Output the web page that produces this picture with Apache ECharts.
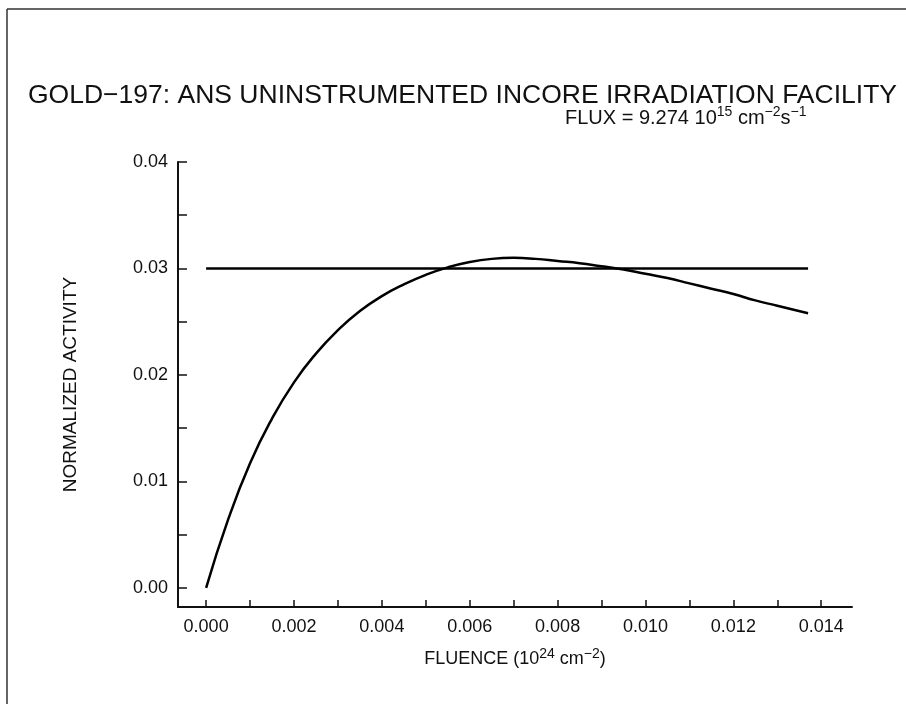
<!doctype html>
<html>
<head>
<meta charset="utf-8">
<title>Gold-197 normalized activity</title>
<script src="https://cdn.jsdelivr.net/npm/echarts@6/dist/echarts.min.js"></script>
<style>
  html, body { margin: 0; height: 100%; background: #fff; }
  #chart { width: 906px; height: 704px; }
</style>
</head>
<body>
<div id="chart"></div>
<script>
// fluence (10^24 cm^-2) and normalized activity
var fluence = [0, 0.0005, 0.001, 0.0015, 0.002, 0.0025, 0.003, 0.0035, 0.004, 0.0045,
  0.005, 0.0055, 0.006, 0.0065, 0.007, 0.0075, 0.008, 0.0085, 0.009, 0.0095,
  0.010, 0.0105, 0.011, 0.0115, 0.012, 0.0125, 0.013, 0.0137];
var activity = [0, 0.0064, 0.0117, 0.0159, 0.0193, 0.0220, 0.0242, 0.0260, 0.0274, 0.0285,
  0.0294, 0.0301, 0.0306, 0.0309, 0.0310, 0.0309, 0.0307, 0.0305, 0.0302, 0.0299,
  0.0295, 0.0291, 0.0286, 0.0281, 0.0276, 0.0270, 0.0265, 0.0258];

// horizontal reference line
var refX = [0, 0.0137];
var refY = [0.03, 0.03];

var xTicks = [0, 0.001, 0.002, 0.003, 0.004, 0.005, 0.006, 0.007, 0.008, 0.009, 0.010, 0.011, 0.012, 0.013, 0.014];
var xLabels = [0, 0.002, 0.004, 0.006, 0.008, 0.010, 0.012, 0.014];
var yTicks = [0, 0.005, 0.01, 0.015, 0.02, 0.025, 0.03, 0.035, 0.04];
var yLabels = [0, 0.01, 0.02, 0.03, 0.04];

var font = '"Liberation Sans", Arial, sans-serif';
var supStyle = { fontFamily: font, fontSize: 14, color: '#111', verticalAlign: 'top', lineHeight: 13 };

var chart = echarts.init(document.getElementById('chart'));
chart.setOption({
  backgroundColor: '#fff',
  animation: false,
  title: [{
    text: 'GOLD\u2212197: ANS UNINSTRUMENTED INCORE IRRADIATION FACILITY',
    left: 23, top: 77,
    textStyle: { fontFamily: font, fontSize: 26.5, fontWeight: 'normal', color: '#111' }
  }, {
    text: 'FLUX = 9.274 10{s|15} cm{s|\u22122}s{s|\u22121}',
    left: 560, top: 100,
    textStyle: {
      fontFamily: font, fontSize: 20, lineHeight: 26, fontWeight: 'normal', color: '#111',
      rich: { s: supStyle }
    }
  }],
  grid: { left: 178, right: 54, top: 162, bottom: 97 },
  xAxis: {
    type: 'value',
    min: -0.00064, max: 0.0147,
    name: 'FLUENCE (10{s|24} cm{s|\u22122})',
    nameLocation: 'middle', nameGap: 40,
    nameTextStyle: { fontFamily: font, fontSize: 18, lineHeight: 24, color: '#111', rich: { s: supStyle } },
    axisLine: { onZero: false, lineStyle: { color: '#111', width: 2 } },
    axisTick: { inside: true, length: 7, customValues: xTicks, lineStyle: { color: '#111', width: 1.5 } },
    axisLabel: {
      customValues: xLabels, margin: 11,
      fontFamily: font, fontSize: 18, color: '#111',
      formatter: function (v) { return v.toFixed(3); }
    },
    splitLine: { show: false }
  },
  yAxis: {
    type: 'value',
    min: -0.0018, max: 0.04,
    name: 'NORMALIZED ACTIVITY',
    nameLocation: 'middle', nameGap: 98, nameRotate: 90,
    nameTextStyle: { fontFamily: font, fontSize: 19, color: '#111' },
    axisLine: { onZero: false, lineStyle: { color: '#111', width: 2 } },
    axisTick: { inside: true, length: 9, customValues: yTicks, lineStyle: { color: '#111', width: 1.5 } },
    axisLabel: {
      customValues: yLabels, margin: 10,
      fontFamily: font, fontSize: 18, color: '#111',
      formatter: function (v) { return v.toFixed(2); }
    },
    splitLine: { show: false }
  },
  series: [{
    type: 'line',
    data: fluence.map(function (x, i) { return [x, activity[i]]; }),
    smooth: true, showSymbol: false,
    lineStyle: { color: '#000', width: 2.5 }
  }, {
    type: 'line',
    data: refX.map(function (x, i) { return [x, refY[i]]; }),
    showSymbol: false,
    lineStyle: { color: '#000', width: 2.5 }
  }],
  graphic: [
    { type: 'line', shape: { x1: 7, y1: 9, x2: 906, y2: 9 }, style: { stroke: '#333', lineWidth: 1.5 } },
    { type: 'line', shape: { x1: 7, y1: 9, x2: 7, y2: 704 }, style: { stroke: '#333', lineWidth: 1.5 } }
  ]
});
</script>
</body>
</html>
